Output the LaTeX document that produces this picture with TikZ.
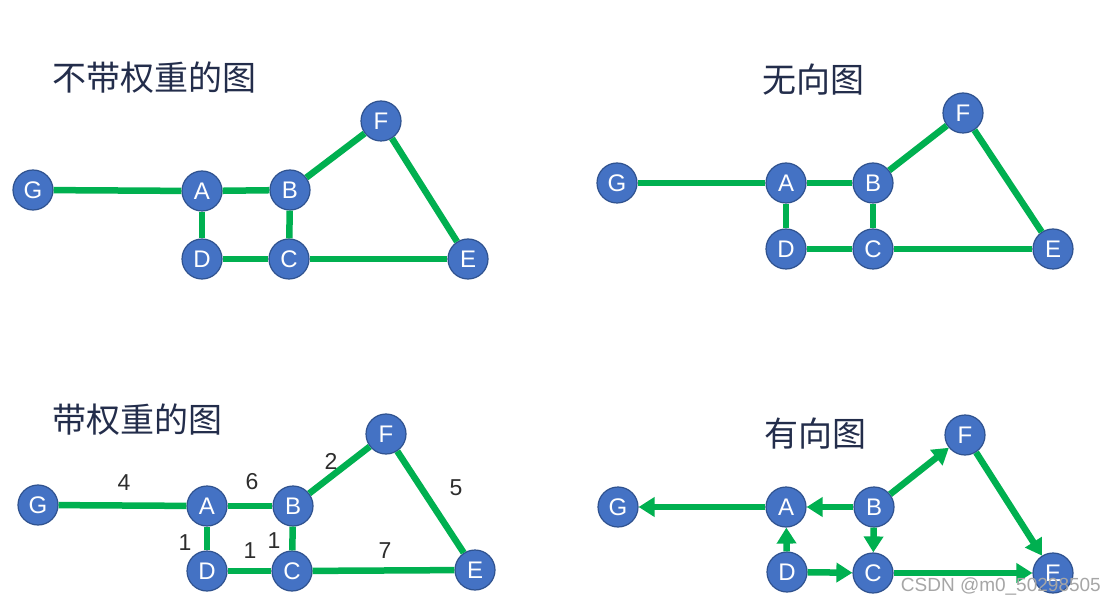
\documentclass[tikz,border=0pt]{standalone}
\usepackage{fontspec}
\setmainfont{Liberation Sans}
\newfontfamily\cjk{Noto Sans CJK SC}
\usetikzlibrary{arrows.meta}
\definecolor{nodeblue}{RGB}{68,114,196}
\definecolor{nodeborder}{RGB}{47,82,143}
\definecolor{edgegreen}{RGB}{0,176,80}
\definecolor{titlecol}{RGB}{35,45,75}
\definecolor{wcol}{RGB}{45,45,45}
\tikzset{
  vtx/.style={circle,minimum size=40pt,inner sep=0pt,fill=nodeblue,draw=nodeborder,line width=1.2pt,text=white,font=\fontsize{24}{24}\selectfont},
  edge/.style={line width=6.5pt,draw=edgegreen},
  dedge/.style={edge,-{Triangle[length=16pt,width=19pt]}},
  ttl/.style={anchor=west,text=titlecol,font=\cjk\fontsize{34}{36}\selectfont,inner sep=0pt},
  wt/.style={text=wcol,font=\fontsize{23}{23}\selectfont,inner sep=0pt},
  wm/.style={text=black!35,font=\fontsize{19}{19}\selectfont,inner sep=0pt,anchor=east}
}
\begin{document}
\begin{tikzpicture}[x=1pt,y=-1pt]
\path[use as bounding box,fill=white] (0,0) rectangle (1105,609);
% ---------- top left: unweighted
\node[ttl] (t1) at (52,78) {不带权重的图};
\node[vtx] (g1) at (33,190) {G};
\node[vtx] (a1) at (202,191) {A};
\node[vtx] (b1) at (290,190) {B};
\node[vtx] (f1) at (381,121) {F};
\node[vtx] (d1) at (202,259) {D};
\node[vtx] (c1) at (289,259) {C};
\node[vtx] (e1) at (468,259) {E};
\draw[edge] (g1) -- (a1);
\draw[edge] (a1) -- (b1);
\draw[edge] (a1) -- (d1);
\draw[edge] (b1) -- (c1);
\draw[edge] (d1) -- (c1);
\draw[edge] (c1) -- (e1);
\draw[edge] (b1) -- (f1);
\draw[edge] (f1) -- (e1);
% ---------- top right: undirected
\node[ttl] (t2) at (762,80) {无向图};
\node[vtx] (g2) at (617,183) {G};
\node[vtx] (a2) at (786,183) {A};
\node[vtx] (b2) at (873,183) {B};
\node[vtx] (f2) at (963,113) {F};
\node[vtx] (d2) at (786,249) {D};
\node[vtx] (c2) at (873,249) {C};
\node[vtx] (e2) at (1053,249) {E};
\draw[edge] (g2) -- (a2);
\draw[edge] (a2) -- (b2);
\draw[edge] (a2) -- (d2);
\draw[edge] (b2) -- (c2);
\draw[edge] (d2) -- (c2);
\draw[edge] (c2) -- (e2);
\draw[edge] (b2) -- (f2);
\draw[edge] (f2) -- (e2);
% ---------- bottom left: weighted
\node[ttl] (t3) at (52,420) {带权重的图};
\node[vtx] (g3) at (38,505) {G};
\node[vtx] (a3) at (207,506) {A};
\node[vtx] (b3) at (293,506) {B};
\node[vtx] (f3) at (386,434) {F};
\node[vtx] (d3) at (207,571) {D};
\node[vtx] (c3) at (292,571) {C};
\node[vtx] (e3) at (475,570) {E};
\draw[edge] (g3) -- (a3);
\draw[edge] (a3) -- (b3);
\draw[edge] (a3) -- (d3);
\draw[edge] (b3) -- (c3);
\draw[edge] (d3) -- (c3);
\draw[edge] (c3) -- (e3);
\draw[edge] (b3) -- (f3);
\draw[edge] (f3) -- (e3);
\node[wt] (w1) at (124,483) {4};
\node[wt] (w2) at (252,482) {6};
\node[wt] (w3) at (331,461) {2};
\node[wt] (w4) at (456,488) {5};
\node[wt] (w5) at (185,543) {1};
\node[wt] (w6) at (250,551) {1};
\node[wt] (w7) at (274,541) {1};
\node[wt] (w8) at (385,551) {7};
% ---------- bottom right: directed
\node[ttl] (t4) at (764,434) {有向图};
\node[vtx] (g4) at (618,507) {G};
\node[vtx] (a4) at (786,507) {A};
\node[vtx] (b4) at (874,507) {B};
\node[vtx] (f4) at (965,435) {F};
\node[vtx] (d4) at (787,572) {D};
\node[vtx] (c4) at (873,573) {C};
\node[vtx] (e4) at (1053,573) {E};
\draw[dedge] (a4) -- (g4);
\draw[dedge] (b4) -- (a4);
\draw[dedge] (b4) -- (c4);
\draw[dedge] (d4) -- (a4);
\draw[dedge] (d4) -- (c4);
\draw[dedge] (c4) -- (e4);
\draw[dedge] (b4) -- (f4);
\draw[dedge] (f4) -- (e4);
\node[wm] (wm) at (1101,587) {CSDN @m0\_50298505};
\end{tikzpicture}
\end{document}
